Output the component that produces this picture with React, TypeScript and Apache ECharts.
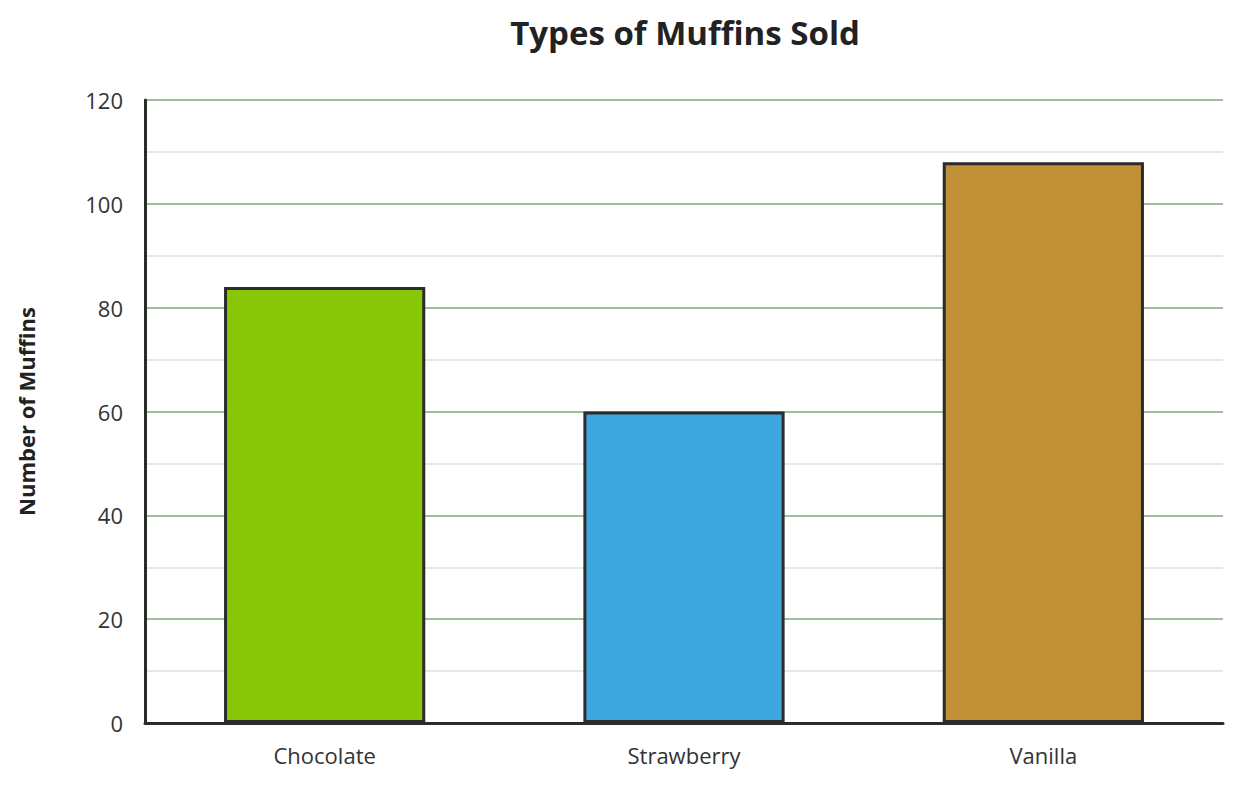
import React, { useEffect, useRef } from "react";
import * as echarts from "echarts";

const categories = ["Chocolate", "Strawberry", "Vanilla"];
const values = [84, 60, 108];
const barColors = ["#88c708", "#3fa7e0", "#bf9036"];

export default function App() {
  const ref = useRef<HTMLDivElement>(null);
  useEffect(() => {
    document.body.style.margin = "0";
    const chart = echarts.init(ref.current!, null, { renderer: "svg" });
    const font = "'Open Sans', 'Noto Sans', sans-serif";
    chart.setOption({
      animation: false,
      title: {
        text: "Types of Muffins Sold",
        left: 680,
        top: 11,
        textAlign: "center",
        textStyle: { fontFamily: font, fontSize: 33, fontWeight: "bold", color: "#222" },
      },
      grid: { left: 145, right: 19, top: 100, bottom: 65, containLabel: false },
      xAxis: {
        type: "category",
        data: categories,
        axisLine: { lineStyle: { color: "#2b2b2b", width: 3 } },
        axisTick: { show: false },
        axisLabel: { fontFamily: font, fontSize: 22, color: "#333", margin: 21 },
      },
      yAxis: {
        type: "value",
        min: 0,
        max: 120,
        interval: 20,
        name: "Number of Muffins",
        nameLocation: "middle",
        nameGap: 108,
        nameTextStyle: { fontFamily: font, fontSize: 22, fontWeight: "bold", color: "#222" },
        axisLine: { show: true, lineStyle: { color: "#2b2b2b", width: 3 } },
        axisTick: { show: false },
        axisLabel: { fontFamily: font, fontSize: 22, color: "#333", margin: 22 },
        splitLine: { show: true, lineStyle: { color: "#9dbf9d", width: 2 } },
        minorTick: { show: false, splitNumber: 2 },
        minorSplitLine: { show: true, lineStyle: { color: "#d5e8d0", width: 1.5 } },
      },
      series: [
        {
          type: "bar",
          barWidth: "56%",
          data: values.map((v, i) => ({
            value: v,
            itemStyle: { color: barColors[i], borderColor: "#2b2b2b", borderWidth: 3 },
          })),
        },
      ],
    });
    return () => chart.dispose();
  }, []);
  return <div ref={ref} style={{ width: 1242, height: 788 }} />;
}
